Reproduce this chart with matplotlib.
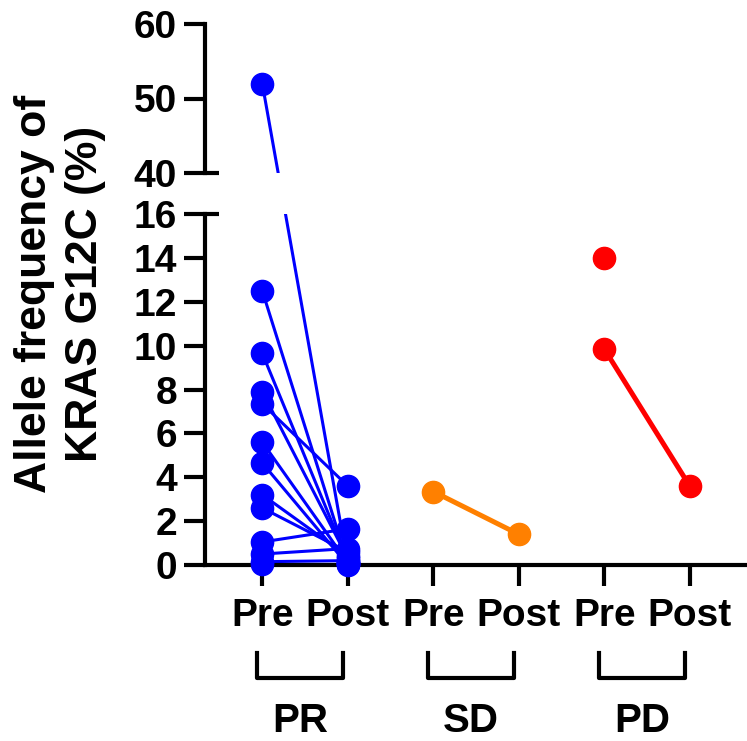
import numpy as np
import matplotlib
matplotlib.use("Agg")
import matplotlib.pyplot as plt
import matplotlib.transforms as mtransforms

plt.rcParams['font.family'] = ['Liberation Sans', 'DejaVu Sans']
plt.rcParams['font.weight'] = 'bold'

# data
groups = ["PR", "SD", "PD"]
tick_labels = ["Pre", "Post", "Pre", "Post", "Pre", "Post"]
group_colors = ["#0000FF", "#FF8000", "#FF0000"]
group_lw = [2.2, 3.6, 3.6]

pr_pre = [52.0, 12.5, 9.65, 7.9, 7.35, 5.6, 4.65, 3.2, 2.6, 1.05, 0.5, 0.15, 0.05]
pr_post = [0.05, 0.1, 0.2, 0.3, 3.6, 0.1, 0.0, 0.4, 0.6, 1.65, 0.75, 0.2, 0.05]
sd_pre = [3.35]
sd_post = [1.4]
pd_pre = [9.85, 14.0]
pd_post = [3.6, np.nan]

pre_vals = [pr_pre, sd_pre, pd_pre]
post_vals = [pr_post, sd_post, pd_post]

low_lim = (0, 16)
high_lim = (40, 60)

W, H = 747, 741
fig = plt.figure(figsize=(W / 100, H / 100), dpi=100)

left = 205 / W
width = 1 - left
ax_bot = fig.add_axes([left, 1 - 565 / H, width, (565 - 214) / H])
ax_top = fig.add_axes([left, 1 - 173 / H, width, (173 - 24) / H])

for ax in (ax_top, ax_bot):
    ax.set_xlim(-0.67, 5.67)
    for s in ("top", "right"):
        ax.spines[s].set_visible(False)
    for s in ("left", "bottom"):
        ax.spines[s].set_linewidth(3)
    ax.tick_params(width=3, length=15, labelsize=28, pad=5)

ax_bot.set_ylim(*low_lim)
ax_top.set_ylim(*high_lim)
ax_bot.set_yticks(np.arange(0, 17, 2))
ax_top.set_yticks([40, 50, 60])
ax_top.spines["bottom"].set_visible(False)
ax_top.set_xticks([])
ax_bot.set_xticks(range(len(tick_labels)))
ax_bot.set_xticklabels(tick_labels, fontsize=28)
ax_bot.tick_params(axis="x", pad=9)

# break marks
for ax, yy in ((ax_top, 0), (ax_bot, 1)):
    ax.plot([0, 0.025], [yy, yy], color="black", lw=3,
            transform=ax.transAxes, clip_on=False, solid_capstyle="butt")


def pick_ax(v):
    return ax_top if v >= high_lim[0] else ax_bot


# connecting lines, drawn straight in pixel space across the break
for gi, (pres, posts) in enumerate(zip(pre_vals, post_vals)):
    x0, x1 = 2 * gi, 2 * gi + 1
    c = group_colors[gi]
    for a, b in zip(pres, posts):
        if np.isnan(a) or np.isnan(b):
            continue
        p0 = pick_ax(a).transData.transform((x0, a))
        p1 = pick_ax(b).transData.transform((x1, b))
        for ax in (ax_top, ax_bot):
            d = ax.transData.inverted().transform([p0, p1])
            ax.plot(d[:, 0], d[:, 1], color=c, lw=group_lw[gi], zorder=2)

# markers
for gi, (pres, posts) in enumerate(zip(pre_vals, post_vals)):
    c = group_colors[gi]
    for xx, vals in ((2 * gi, pres), (2 * gi + 1, posts)):
        for v in vals:
            if np.isnan(v):
                continue
            pick_ax(v).plot([xx], [v], "o", color=c, ms=16, mec=c,
                            clip_on=False, zorder=4)

fig.text(60 / W, 1 - 294 / H, "Allele frequency of\nKRAS G12C (%)",
         rotation=90, ha="center", va="center", fontsize=32,
         fontweight="bold", multialignment="center", linespacing=1.3)

# group brackets and labels
bt = mtransforms.blended_transform_factory(ax_bot.transData, fig.transFigure)
y_hi, y_lo = 1 - 653 / H, 1 - 678 / H
for gi, g in enumerate(groups):
    xa, xb = 2 * gi - 0.06, 2 * gi + 1 - 0.06
    fig.add_artist(plt.Line2D([xa, xa, xb, xb], [y_hi, y_lo, y_lo, y_hi],
                              transform=bt, color="black", lw=3))
    fig.text((xa + xb) / 2, 1 - 721 / H, g, transform=bt, ha="center",
             va="center", fontsize=29, fontweight="bold")

fig.savefig("out.png", dpi=100)
